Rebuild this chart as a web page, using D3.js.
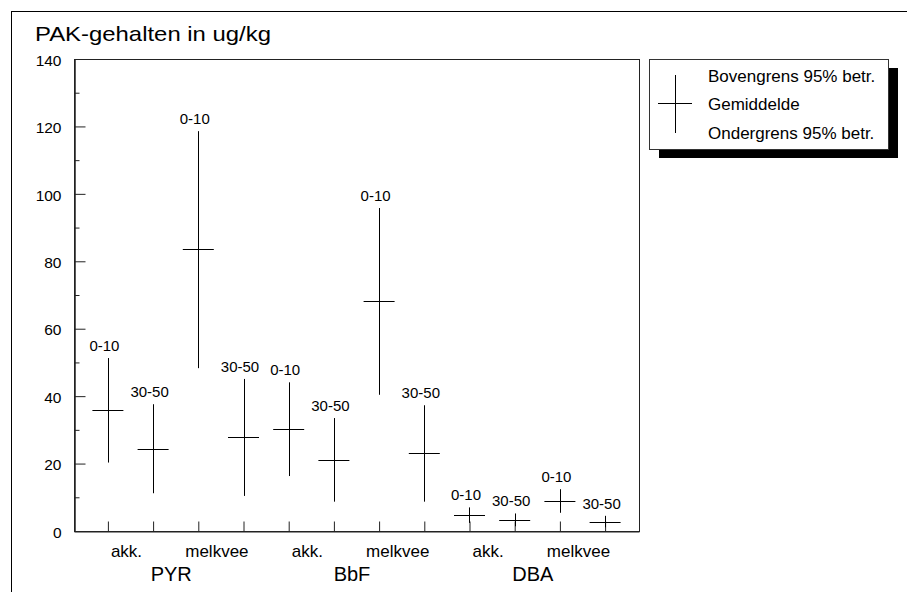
<!DOCTYPE html>
<html>
<head>
<meta charset="utf-8">
<script src="https://cdn.jsdelivr.net/npm/d3@7"></script>
<style>
  body { margin: 0; background: #fff; }
  text { font-family: "Liberation Sans", Arial, sans-serif; fill: #000; }
</style>
</head>
<body>
<div class="chart"></div>
<script>
// data
var substances = ["PYR", "BbF", "DBA"];
var landuse = ["akk.", "melkvee"];
var depths = ["0-10", "30-50"];
var meanVals = [35.9, 24.4, 83.6, 27.8, 30.2, 21.1, 68.1, 23.0, 4.7, 3.3, 8.9, 2.8];
var upperVals = [51.3, 37.6, 118.6, 45.1, 44.1, 33.5, 95.8, 37.3, 7.0, 5.2, 12.4, 4.5];
var lowerVals = [20.3, 11.2, 48.3, 10.4, 16.3, 8.7, 40.4, 8.7, 2.4, 1.4, 5.4, 1.1];
var majorTicks = [0, 20, 40, 60, 80, 100, 120, 140];
var minorTicks = [10, 30, 50, 70, 90, 110, 130];
var legendLabels = ["Bovengrens 95% betr.", "Gemiddelde", "Ondergrens 95% betr."];

var w = 907, h = 592;
var pLeft = 74, pRight = 639, pTop = 59, pBottom = 531;

var svg = d3.select('.chart').append('svg')
  .attr('width', w)
  .attr('height', h);

// outer frame (runs off the page)
svg.append('rect')
  .attr('x', 11.5).attr('y', 11.5)
  .attr('width', 1000).attr('height', 1000)
  .style('fill', 'none').style('stroke', '#000');

svg.append('text')
  .attr('x', 35).attr('y', 41)
  .attr('textLength', 236)
  .attr('lengthAdjust', 'spacingAndGlyphs')
  .style('font-size', '21px')
  .text('PAK-gehalten in ug/kg');

var y = d3.scaleLinear().domain([0, 140]).range([pBottom, pTop]);
var x = d3.scaleLinear().domain([-0.75, 11.75]).range([pLeft, pRight]);

var items = d3.range(meanVals.length).map(function(i){
  return {i: i, mean: meanVals[i], hi: upperVals[i], lo: lowerVals[i], depth: depths[i % 2]};
});

// plot frame
svg.append('rect')
  .attr('x', pLeft + 0.5).attr('y', pTop + 0.5)
  .attr('width', pRight - pLeft).attr('height', pBottom - pTop)
  .style('fill', 'none').style('stroke', '#222');

var yAxis = svg.append('g')
  .attr('transform', 'translate(' + (pLeft + 0.5) + ',0)')
  .call(d3.axisLeft(y).tickValues(majorTicks).tickSize(-11).tickSizeOuter(0).tickPadding(13));
yAxis.selectAll('text').style('font-size', '15.5px').attr('dy', '0.4em').style('fill', '#000')
  .style('font-family', '"Liberation Sans", Arial, sans-serif');

svg.append('g')
  .attr('transform', 'translate(' + (pLeft + 0.5) + ',0)')
  .call(d3.axisLeft(y).tickValues(minorTicks).tickSize(-5).tickSizeOuter(0).tickFormat(''));

svg.append('g')
  .attr('transform', 'translate(0,' + (pBottom + 0.5) + ')')
  .call(d3.axisBottom(x).tickValues(d3.range(12)).tickSize(-10).tickSizeOuter(0).tickFormat(''));

svg.selectAll('.domain, .tick line').style('stroke', '#222');

// error crosses
var glyph = svg.selectAll('.glyph').data(items).enter().append('g').attr('class', 'glyph');

glyph.append('line')
  .attr('x1', function(d){ return Math.round(x(d.i)) + 0.5; })
  .attr('x2', function(d){ return Math.round(x(d.i)) + 0.5; })
  .attr('y1', function(d){ return y(d.hi); })
  .attr('y2', function(d){ return y(d.lo); })
  .style('stroke', '#000');

glyph.append('line')
  .attr('x1', function(d){ return x(d.i) - 15.5; })
  .attr('x2', function(d){ return x(d.i) + 15.5; })
  .attr('y1', function(d){ return Math.round(y(d.mean)) + 0.5; })
  .attr('y2', function(d){ return Math.round(y(d.mean)) + 0.5; })
  .style('stroke', '#000');

glyph.append('text')
  .attr('x', function(d){ return x(d.i) - 3.5; })
  .attr('y', function(d){ return y(d.hi) - 7; })
  .attr('text-anchor', 'middle')
  .style('font-size', '15px')
  .text(function(d){ return d.depth; });

// land use and substance labels
var luData = d3.range(6).map(function(k){ return {k: k, name: landuse[k % 2]}; });
svg.selectAll('.lu').data(luData).enter().append('text')
  .attr('x', function(d){ return x(2 * d.k + 0.5) - 4; })
  .attr('y', 557)
  .attr('text-anchor', 'middle')
  .style('font-size', '17px')
  .text(function(d){ return d.name; });

svg.selectAll('.sub').data(substances).enter().append('text')
  .attr('x', function(d, k){ return x(4 * k + 1.5) - 4.5; })
  .attr('y', 581)
  .attr('text-anchor', 'middle')
  .style('font-size', '20px')
  .text(function(d){ return d; });

// legend
var lg = svg.append('g');
lg.append('rect')
  .attr('x', 659).attr('y', 68).attr('width', 239).attr('height', 90)
  .style('fill', '#000');
lg.append('rect')
  .attr('x', 649.5).attr('y', 59.5).attr('width', 239).attr('height', 90)
  .style('fill', '#fff').style('stroke', '#333');
lg.append('line')
  .attr('x1', 675.5).attr('x2', 675.5).attr('y1', 75).attr('y2', 133)
  .style('stroke', '#000');
lg.append('line')
  .attr('x1', 658).attr('x2', 692).attr('y1', 103.5).attr('y2', 103.5)
  .style('stroke', '#000');
lg.selectAll('.lgt').data(legendLabels).enter().append('text')
  .attr('x', 708)
  .attr('y', function(d, k){ return 81.5 + k * 28.5; })
  .style('font-size', '17px')
  .text(function(d){ return d; });
</script>
</body>
</html>
